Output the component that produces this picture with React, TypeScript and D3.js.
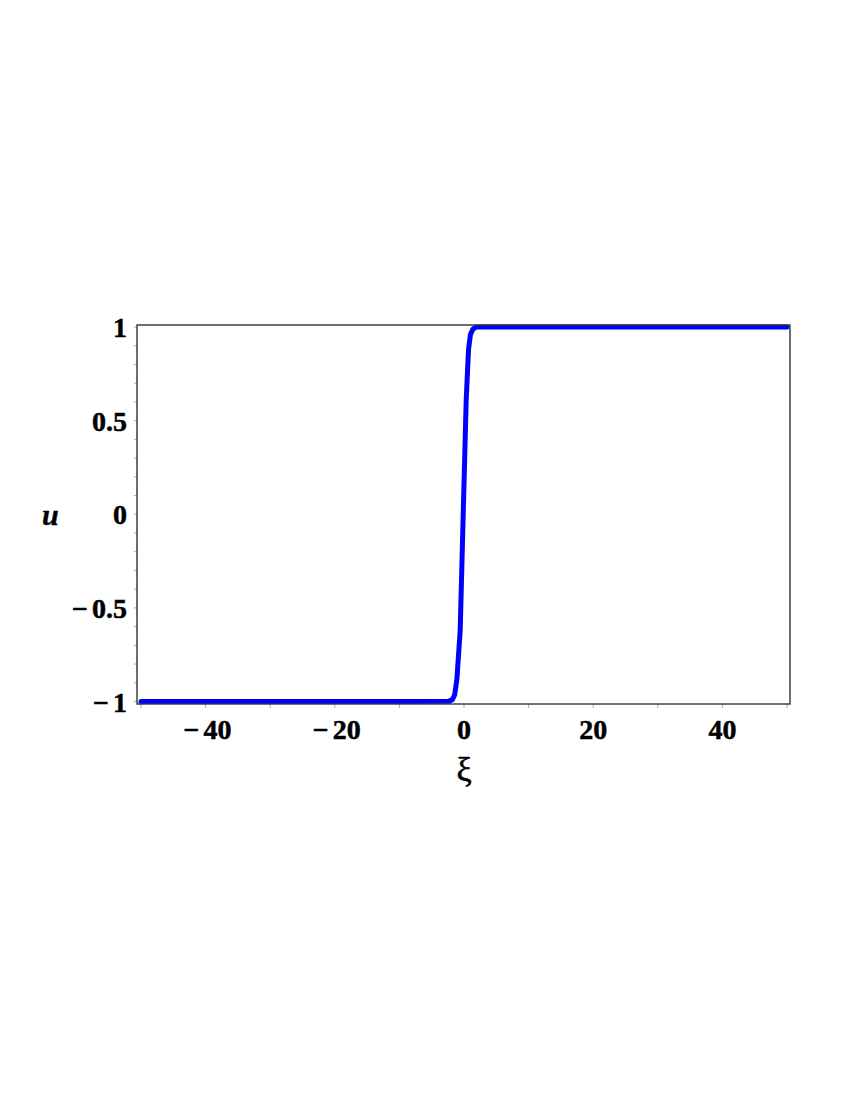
import React from "react";
import * as d3 from "d3";

// ξ samples and u values
const xiValues = [-50, -10, -2.3, -1.8, -1.45, -1.11, -0.59, 0.34, 0.7, 1.0, 1.4, 1.9, 10, 50];
const uValues = [-1, -1, -0.998, -0.99, -0.965, -0.885, -0.62, 0.61, 0.88, 0.96, 0.99, 1.0, 1.0, 1.0];

const xTickLabels = [-40, -20, 0, 20, 40];
const xMinorTicks = [-50, -40, -30, -20, -10, 0, 10, 20, 30, 40, 50];
const yTickLabels = [-1, -0.5, 0, 0.5, 1];
const yMinorTicks = d3.range(-10, 11).map((i) => i / 10);

export default function App() {
  const x = d3.scaleLinear().domain([-50, 50]).range([141, 787]);
  const y = d3.scaleLinear().domain([-1, 1]).range([701.5, 327]);
  const frame = { left: 137, right: 790, top: 325, bottom: 704 };

  const pts: [number, number][] = xiValues.map((v, i) => [v, uValues[i]]);
  const line = d3
    .line<[number, number]>()
    .x((d) => x(d[0]))
    .y((d) => y(d[1]));

  const font = "'Liberation Serif', 'Times New Roman', serif";

  const label = (v: number) =>
    v < 0 ? (
      <>
        <tspan>{"\u2212"}</tspan>
        <tspan dx={4}>{String(Math.abs(v))}</tspan>
      </>
    ) : (
      String(v)
    );

  return (
    <svg
      width={850}
      height={1100}
      style={{ position: "absolute", left: 0, top: 0, background: "#fff" }}
    >
      <rect x={0} y={0} width={850} height={1100} fill="#fff" />
      {/* x ticks */}
      {xMinorTicks.map((t) => (
        <line key={"xt" + t} x1={x(t)} x2={x(t)} y1={frame.bottom} y2={frame.bottom + 4} stroke="#aaa" strokeWidth={1} />
      ))}
      {/* y ticks */}
      {yMinorTicks.map((t) => (
        <line key={"yt" + t} x1={frame.left - 3} x2={frame.left} y1={y(t)} y2={y(t)} stroke="#aaa" strokeWidth={1} />
      ))}
      {/* curve */}
      <path d={line(pts) || ""} fill="none" stroke="#0000ff" strokeWidth={5} strokeLinejoin="round" strokeLinecap="round" />
      {/* frame */}
      <rect
        x={frame.left}
        y={frame.top}
        width={frame.right - frame.left}
        height={frame.bottom - frame.top}
        fill="none"
        stroke="#333"
        strokeWidth={1.4}
      />
      {/* x labels */}
      {xTickLabels.map((t) => (
        <text key={"xl" + t} x={x(t) + (t < 0 ? 2 : 0)} y={739} textAnchor="middle" fontFamily={font} fontWeight="bold" fontSize={28} fill="#000" stroke="#000" strokeWidth={0.5}>
          {label(t)}
        </text>
      ))}
      {/* y labels */}
      {yTickLabels.map((t) => (
        <text key={"yl" + t} x={127} y={y(t) + 10} textAnchor="end" fontFamily={font} fontWeight="bold" fontSize={28} fill="#000" stroke="#000" strokeWidth={0.5}>
          {label(t)}
        </text>
      ))}
      <text x={42} y={525} fontFamily={font} fontWeight="bold" fontStyle="italic" fontSize={30} fill="#000" stroke="#000" strokeWidth={0.4}>
        u
      </text>
      <text x={464} y={781} textAnchor="middle" fontFamily={font} fontSize={34} fill="#000" stroke="#000" strokeWidth={0.6}>
        ξ
      </text>
    </svg>
  );
}
